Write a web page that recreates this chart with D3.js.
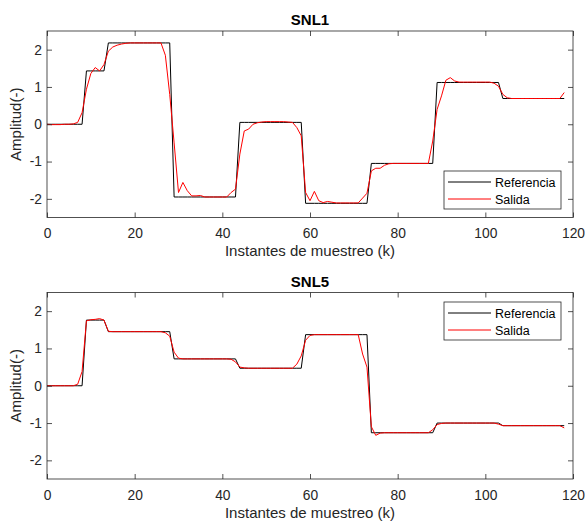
<!DOCTYPE html>
<html>
<head>
<meta charset="utf-8">
<script src="https://cdn.jsdelivr.net/npm/d3@7"></script>
<style>
  body { margin: 0; background: #fff; }
  svg { font-family: "Liberation Sans", Arial, Helvetica, sans-serif; }
</style>
</head>
<body>
<svg id="chart" width="585" height="521"></svg>
<script>
// samples k = 0..118
var xTicks = [0, 20, 40, 60, 80, 100, 120];
var yTicks = [-2, -1, 0, 1, 2];

var snl1Ref = [
  0, 0, 0, 0, 0, 0, 0, 0, 0,
  1.43, 1.43, 1.43, 1.43, 1.43,
  2.18, 2.18, 2.18, 2.18, 2.18, 2.18, 2.18, 2.18, 2.18, 2.18, 2.18, 2.18, 2.18, 2.18, 2.18,
  -1.95, -1.95, -1.95, -1.95, -1.95, -1.95, -1.95, -1.95, -1.95, -1.95, -1.95, -1.95, -1.95, -1.95, -1.95,
  0.05, 0.05, 0.05, 0.05, 0.05, 0.05, 0.05, 0.05, 0.05, 0.05, 0.05, 0.05, 0.05, 0.05, 0.05,
  -2.12, -2.12, -2.12, -2.12, -2.12, -2.12, -2.12, -2.12, -2.12, -2.12, -2.12, -2.12, -2.12, -2.12, -2.12,
  -1.05, -1.05, -1.05, -1.05, -1.05, -1.05, -1.05, -1.05, -1.05, -1.05, -1.05, -1.05, -1.05, -1.05, -1.05,
  1.12, 1.12, 1.12, 1.12, 1.12, 1.12, 1.12, 1.12, 1.12, 1.12, 1.12, 1.12, 1.12, 1.12, 1.12,
  0.69, 0.69, 0.69, 0.69, 0.69, 0.69, 0.69, 0.69, 0.69, 0.69, 0.69, 0.69, 0.69, 0.69, 0.69
];
var snl1Out = [
  0, -0.01, -0.01, -0.01, 0, 0, 0.01, 0.05, 0.31, 0.94,
  1.36, 1.52, 1.43, 1.6, 1.96, 2.07, 2.12, 2.15, 2.17, 2.18,
  2.18, 2.18, 2.18, 2.18, 2.18, 2.18, 2.18, 1.85, 0.8, -0.5,
  -1.83, -1.56, -1.78, -1.92, -1.92, -1.91, -1.95, -1.95, -1.95, -1.95,
  -1.95, -1.95, -1.83, -1.74, -0.8, -0.18, -0.13, 0, 0.04, 0.06,
  0.07, 0.07, 0.07, 0.07, 0.07, 0.06, 0.05, -0.09, -0.31, -1.83,
  -2.05, -1.8, -2.05, -2.1, -2.07, -2.09, -2.11, -2.11, -2.11, -2.11,
  -2.11, -2.11, -1.98, -1.85, -1.25, -1.18, -1.18, -1.1, -1.06, -1.05,
  -1.05, -1.05, -1.05, -1.05, -1.05, -1.05, -1.05, -1.05, -0.45, 0.4,
  0.76, 1.18, 1.25, 1.16, 1.13, 1.13, 1.13, 1.13, 1.13, 1.13,
  1.13, 1.13, 1.1, 1.02, 0.8, 0.71, 0.69, 0.69, 0.69, 0.69,
  0.69, 0.69, 0.69, 0.69, 0.69, 0.69, 0.69, 0.69, 0.85
];

var snl5Ref = [
  0, 0, 0, 0, 0, 0, 0, 0, 0,
  1.76, 1.76, 1.76, 1.76, 1.76,
  1.45, 1.45, 1.45, 1.45, 1.45, 1.45, 1.45, 1.45, 1.45, 1.45, 1.45, 1.45, 1.45, 1.45, 1.45,
  0.72, 0.72, 0.72, 0.72, 0.72, 0.72, 0.72, 0.72, 0.72, 0.72, 0.72, 0.72, 0.72, 0.72, 0.72,
  0.47, 0.47, 0.47, 0.47, 0.47, 0.47, 0.47, 0.47, 0.47, 0.47, 0.47, 0.47, 0.47, 0.47, 0.47,
  1.37, 1.37, 1.37, 1.37, 1.37, 1.37, 1.37, 1.37, 1.37, 1.37, 1.37, 1.37, 1.37, 1.37, 1.37,
  -1.26, -1.26, -1.26, -1.26, -1.26, -1.26, -1.26, -1.26, -1.26, -1.26, -1.26, -1.26, -1.26, -1.26, -1.26,
  -1.0, -1.0, -1.0, -1.0, -1.0, -1.0, -1.0, -1.0, -1.0, -1.0, -1.0, -1.0, -1.0, -1.0, -1.0,
  -1.07, -1.07, -1.07, -1.07, -1.07, -1.07, -1.07, -1.07, -1.07, -1.07, -1.07, -1.07, -1.07, -1.07, -1.07
];
var snl5Out = [
  0, 0, 0, 0, 0, 0, 0, 0.04, 0.38, 1.74,
  1.77, 1.78, 1.8, 1.76, 1.46, 1.45, 1.45, 1.45, 1.45, 1.45,
  1.45, 1.45, 1.45, 1.45, 1.45, 1.45, 1.45, 1.42, 1.33, 0.9,
  0.74, 0.72, 0.72, 0.72, 0.72, 0.72, 0.72, 0.72, 0.72, 0.72,
  0.72, 0.72, 0.71, 0.64, 0.5, 0.48, 0.47, 0.47, 0.47, 0.47,
  0.47, 0.47, 0.47, 0.47, 0.47, 0.47, 0.47, 0.58, 0.8, 1.22,
  1.35, 1.37, 1.37, 1.37, 1.37, 1.37, 1.37, 1.37, 1.37, 1.37,
  1.37, 1.37, 0.85, 0.5, -1.1, -1.33, -1.27, -1.26, -1.26, -1.26,
  -1.26, -1.26, -1.26, -1.26, -1.26, -1.26, -1.26, -1.26, -1.18, -1.04,
  -1.01, -1.0, -1.0, -1.0, -1.0, -1.0, -1.0, -1.0, -1.0, -1.0,
  -1.0, -1.0, -1.0, -1.03, -1.07, -1.07, -1.07, -1.07, -1.07, -1.07,
  -1.07, -1.07, -1.07, -1.07, -1.07, -1.07, -1.07, -1.07, -1.13
];

var legendNames = ["Referencia", "Salida"];
var seriesColors = ["#000000", "#ff0000"];

var svg = d3.select("#chart");
var axisColor = "#262626";

function drawPanel(title, ref, out, top, bottom) {
  var left = 47, right = 573;

  var x = d3.scaleLinear().domain([0, 120]).range([left, right]);
  var y = d3.scaleLinear().domain([-2.5, 2.5]).range([bottom, top]);

  var g = svg.append("g");

  var line = d3.line()
    .x(function(d, i) { return x(i); })
    .y(function(d) { return y(d); });

  g.append("path").datum(ref)
    .attr("fill", "none").attr("stroke", seriesColors[0]).attr("stroke-width", 1)
    .attr("d", line);
  g.append("path").datum(out)
    .attr("fill", "none").attr("stroke", seriesColors[1]).attr("stroke-width", 1)
    .attr("d", line);

  // axes, ticks inside like matlab
  var bx = g.append("g").attr("transform", "translate(0," + bottom + ")")
    .call(d3.axisBottom(x).tickValues(xTicks).tickSize(-5).tickPadding(11));
  var tx = g.append("g").attr("transform", "translate(0," + top + ")")
    .call(d3.axisTop(x).tickValues(xTicks).tickSize(-5).tickFormat(""));
  var ly = g.append("g").attr("transform", "translate(" + left + ",0)")
    .call(d3.axisLeft(y).tickValues(yTicks).tickSize(-5).tickPadding(5));
  var ry = g.append("g").attr("transform", "translate(" + right + ",0)")
    .call(d3.axisRight(y).tickValues(yTicks).tickSize(-5).tickFormat(""));

  [bx, tx, ly, ry].forEach(function(a) {
    a.select(".domain").remove();
    a.selectAll(".tick line").attr("stroke", axisColor).attr("stroke-width", 0.8);
    a.selectAll(".tick text").attr("fill", axisColor)
      .style("font-size", "13.8px")
      .style("font-family", "'Liberation Sans', Arial, sans-serif");
  });
  ly.selectAll(".tick text").text(function(d) { return d < 0 ? "-" + Math.abs(d) : d; });

  g.append("rect")
    .attr("x", left).attr("y", top)
    .attr("width", right - left).attr("height", bottom - top)
    .attr("fill", "none").attr("stroke", axisColor).attr("stroke-width", 0.8);

  // title
  g.append("text")
    .attr("x", (left + right) / 2).attr("y", top - 6)
    .attr("text-anchor", "middle")
    .style("font-size", "15px").style("font-weight", "bold")
    .attr("fill", "#000")
    .text(title);

  // x label
  g.append("text")
    .attr("x", (left + right) / 2).attr("y", bottom + 38.5)
    .attr("text-anchor", "middle")
    .style("font-size", "15px")
    .attr("fill", axisColor)
    .text("Instantes de muestreo (k)");

  // y label
  g.append("text")
    .attr("transform", "translate(21," + ((top + bottom) / 2) + ") rotate(-90)")
    .attr("text-anchor", "middle")
    .style("font-size", "15px")
    .attr("fill", axisColor)
    .text("Amplitud(-)");

  return { g: g, x: x, y: y };
}

function drawLegend(g, lx, ly) {
  var w = 117, h = 38;
  g.append("rect")
    .attr("x", lx).attr("y", ly).attr("width", w).attr("height", h)
    .attr("fill", "#fff").attr("stroke", axisColor).attr("stroke-width", 0.8);
  legendNames.forEach(function(name, i) {
    var yy = ly + 11 + i * 17;
    g.append("line")
      .attr("x1", lx + 4).attr("x2", lx + 47)
      .attr("y1", yy).attr("y2", yy)
      .attr("stroke", seriesColors[i]).attr("stroke-width", 1);
    g.append("text")
      .attr("x", lx + 51).attr("y", yy + 4.5)
      .style("font-size", "12.5px")
      .attr("fill", "#000")
      .text(name);
  });
}

var p1 = drawPanel("SNL1", snl1Ref, snl1Out, 31, 217.5);
drawLegend(p1.g, 444, 171);

var p2 = drawPanel("SNL5", snl5Ref, snl5Out, 292.5, 479);
drawLegend(p2.g, 444, 302);
</script>
</body>
</html>
